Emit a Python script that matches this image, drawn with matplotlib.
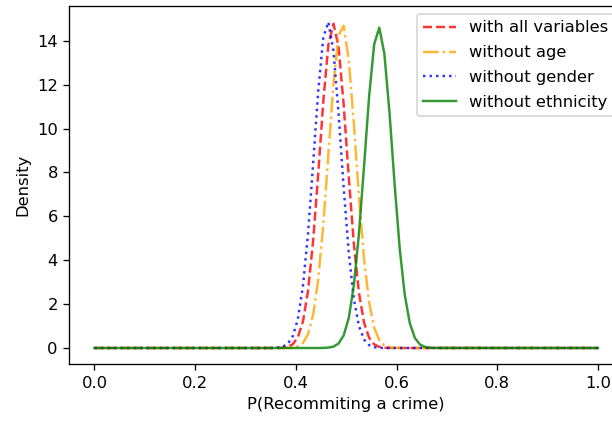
import matplotlib
matplotlib.use("Agg")
import matplotlib.pyplot as plt

# grid of predicted probabilities (outside the range shown every density is ~0)
p_grid = [0.0, 0.3434, 0.3535, 0.3636, 0.3737, 0.3838, 0.3939, 0.4040, 0.4141,
          0.4242, 0.4343, 0.4444, 0.4545, 0.4646, 0.4747, 0.4848, 0.4949,
          0.5051, 0.5152, 0.5253, 0.5354, 0.5455, 0.5556, 0.5657, 0.5758,
          0.5859, 0.5960, 0.6061, 0.6162, 0.6263, 0.6364, 0.6465, 0.6566,
          0.6667, 0.6768, 1.0]

dens_all = [0, 0.0001, 0.0006, 0.0032, 0.014, 0.052, 0.172, 0.489, 1.21,
            2.61, 4.88, 7.94, 11.24, 13.82, 14.78, 13.74, 11.11,
            7.78, 4.75, 2.52, 1.16, 0.465, 0.163, 0.049, 0.013,
            0.003, 0.0006, 0, 0, 0, 0, 0, 0,
            0, 0, 0]

dens_no_age = [0, 0, 0, 0.0002, 0.001, 0.0048, 0.020, 0.073, 0.230,
               0.631, 1.51, 3.12, 5.63, 8.83, 12.04, 14.26, 14.69,
               13.14, 10.22, 6.91, 4.06, 2.08, 0.92, 0.356, 0.120,
               0.035, 0.009, 0.002, 0, 0, 0, 0, 0,
               0, 0, 0]

dens_no_gender = [0, 0.0007, 0.0035, 0.015, 0.058, 0.189, 0.536, 1.32, 2.82,
                  5.22, 8.39, 11.70, 14.16, 14.86, 13.54, 10.70, 7.33,
                  4.34, 2.23, 1.00, 0.39, 0.13, 0.038, 0.010, 0.002,
                  0, 0, 0, 0, 0, 0, 0, 0,
                  0, 0, 0]

dens_no_eth = [0, 0, 0, 0, 0, 0, 0, 0, 0,
               0, 0, 0, 0.004, 0.018, 0.065, 0.206, 0.567,
               1.37, 2.86, 5.21, 8.28, 11.47, 13.85, 14.60, 13.41,
               10.75, 7.51, 4.57, 2.43, 1.13, 0.455, 0.160, 0.049,
               0.013, 0.003, 0]

DPI = 118
fig = plt.figure(figsize=(612 / DPI, 421 / DPI), dpi=DPI)
# right side of the axes runs past the edge of the saved picture
ax = fig.add_axes([0.1132, 0.1347, 0.905, 0.8518])

ax.plot(p_grid, dens_all, color="red", linestyle="--", alpha=0.8, label="with all variables")
ax.plot(p_grid, dens_no_age, color="orange", linestyle="-.", alpha=0.8, label="without age")
ax.plot(p_grid, dens_no_gender, color="blue", linestyle=":", alpha=0.8, label="without gender")
ax.plot(p_grid, dens_no_eth, color="green", linestyle="-", alpha=0.8, label="without ethnicity")

ax.set_xlabel("P(Recommiting a crime)")
ax.set_ylabel("Density")
ax.legend(loc="upper right", labelspacing=0.6)

fig.savefig("out.png", dpi=DPI)
